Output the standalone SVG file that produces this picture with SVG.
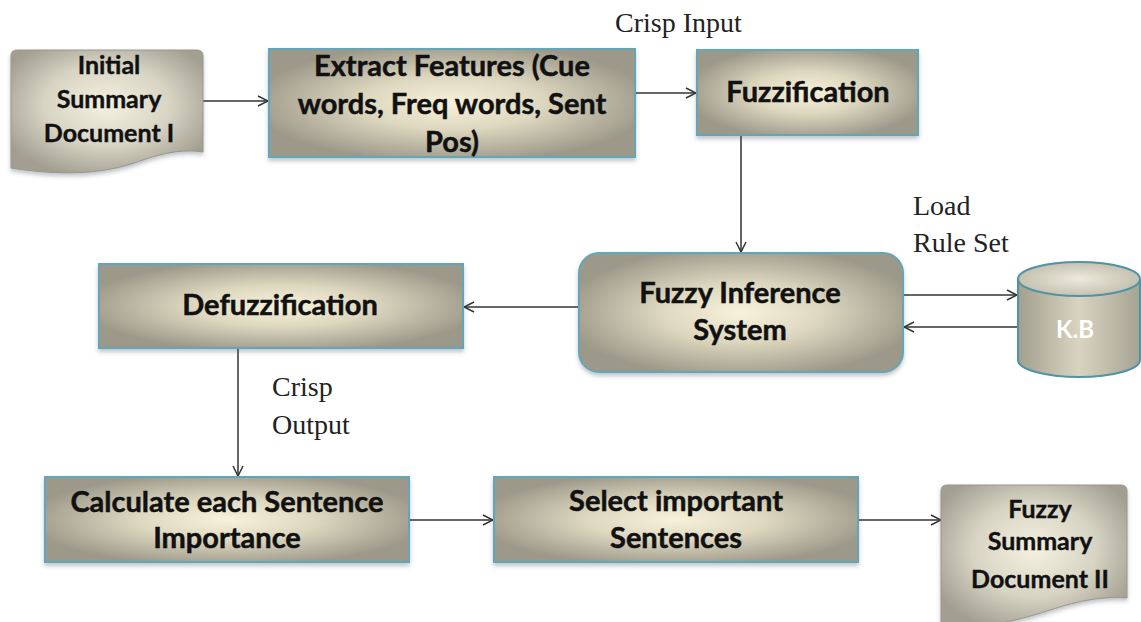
<svg xmlns="http://www.w3.org/2000/svg" width="1141" height="622" viewBox="0 0 1141 622">
  <defs>
    <radialGradient id="boxFill" cx="0.5" cy="0.5" r="0.55">
      <stop offset="0" stop-color="#f8f2da"/>
      <stop offset="0.45" stop-color="#ddd7bf"/>
      <stop offset="1" stop-color="#9d998a"/>
    </radialGradient>
    <radialGradient id="docFill" cx="0.5" cy="0.45" r="0.6">
      <stop offset="0" stop-color="#f5f1e0"/>
      <stop offset="0.55" stop-color="#d8d4c4"/>
      <stop offset="1" stop-color="#a29e90"/>
    </radialGradient>
    <linearGradient id="cylBody" x1="0" y1="0" x2="1" y2="0">
      <stop offset="0" stop-color="#a39f8f"/>
      <stop offset="0.5" stop-color="#d9d4c0"/>
      <stop offset="1" stop-color="#a7a393"/>
    </linearGradient>
    <radialGradient id="cylTop" cx="0.5" cy="0.5" r="0.6">
      <stop offset="0" stop-color="#eeeadb"/>
      <stop offset="1" stop-color="#bdb9a9"/>
    </radialGradient>
    <filter id="shadow" x="-10%" y="-10%" width="120%" height="130%">
      <feDropShadow dx="0" dy="3" stdDeviation="2" flood-color="#4a5a66" flood-opacity="0.35"/>
    </filter>
    <marker id="arrow" viewBox="0 0 12 12" refX="11" refY="6" markerWidth="12" markerHeight="12" markerUnits="userSpaceOnUse" orient="auto">
      <path d="M1,1 L11,6 L1,11" fill="none" stroke="#333" stroke-width="1.5"/>
    </marker>
  </defs>
  <style>
    .box { fill: url(#boxFill); stroke: #63a6b8; stroke-width: 2; filter: url(#shadow); }
    .doc { fill: url(#docFill); stroke: #9a968a; stroke-width: 1; filter: url(#shadow); }
    .label { font-family: Lato, "Liberation Sans", sans-serif; font-weight: 700; font-size: 29px; fill: #111; stroke: #111; stroke-width: 0.5; text-anchor: middle; }
    .doclabel { font-family: Lato, "Liberation Sans", sans-serif; font-weight: 700; font-size: 25px; fill: #111; stroke: #111; stroke-width: 0.4; text-anchor: middle; }
    .note { font-family: "Liberation Serif", "Times New Roman", serif; font-size: 28px; fill: #222; }
    .link { fill: none; stroke: #333; stroke-width: 1.5; marker-end: url(#arrow); }
  </style>

  <rect width="1141" height="622" fill="#ffffff"/>

  <!-- connectors -->
  <g id="connectors">
    <line class="link" x1="203" y1="101" x2="268" y2="101"/>
    <line class="link" x1="635" y1="93" x2="696" y2="93"/>
    <line class="link" x1="741" y1="135" x2="741" y2="252"/>
    <line class="link" x1="579" y1="307" x2="464" y2="307"/>
    <line class="link" x1="890" y1="295" x2="1017" y2="295"/>
    <line class="link" x1="1018" y1="327" x2="904" y2="327"/>
    <line class="link" x1="238" y1="348" x2="238" y2="476"/>
    <line class="link" x1="409" y1="520" x2="493" y2="520"/>
    <line class="link" x1="858" y1="520" x2="941" y2="520"/>
  </g>

  <!-- edge labels -->
  <g id="edge-labels">
    <text class="note" x="615" y="32" font-size="31">Crisp Input</text>
    <text class="note" x="913" y="215">Load</text>
    <text class="note" x="913" y="252">Rule Set</text>
    <text class="note" x="272" y="396">Crisp</text>
    <text class="note" x="272" y="434">Output</text>
  </g>

  <g id="initial-summary">
    <path class="doc" d="M11,56 Q11,50 17,50 H197 Q203,50 203,56 V152 C185,149 165,152 140,161 C112,171 75,178 11,168 Z"/>
    <text class="doclabel" x="109" y="74">Initial</text>
    <text class="doclabel" x="109" y="108">Summary</text>
    <text class="doclabel" x="109" y="142">Document I</text>
  </g>

  <g id="extract-features">
    <rect class="box" x="269" y="49" width="366" height="108"/>
    <text class="label" x="452" y="76">Extract Features (Cue</text>
    <text class="label" x="452" y="114">words, Freq words, Sent</text>
    <text class="label" x="452" y="152">Pos)</text>
  </g>

  <g id="fuzzification">
    <rect class="box" x="697" y="50" width="221" height="85"/>
    <text class="label" x="808" y="102">Fuzzification</text>
  </g>

  <g id="fuzzy-inference">
    <rect class="box" x="579" y="253" width="324" height="119" rx="20" ry="20"/>
    <text class="label" x="740" y="303">Fuzzy Inference</text>
    <text class="label" x="740" y="340">System</text>
  </g>

  <g id="knowledge-base">
    <path d="M1018,279 V360 A61,17 0 0 0 1140,360 V279" fill="url(#cylBody)" stroke="#4f93a5" stroke-width="2"/>
    <ellipse cx="1079" cy="279" rx="61" ry="17" fill="url(#cylTop)" stroke="#4f93a5" stroke-width="2"/>
    <text x="1075" y="338" font-family="Lato, 'Liberation Sans', sans-serif" font-weight="700" font-size="24" fill="#ffffff" text-anchor="middle">K.B</text>
  </g>

  <g id="defuzzification">
    <rect class="box" x="99" y="264" width="364" height="84"/>
    <text class="label" x="280" y="315">Defuzzification</text>
  </g>

  <g id="sentence-importance">
    <rect class="box" x="45" y="477" width="364" height="85"/>
    <text class="label" x="227" y="512">Calculate each Sentence</text>
    <text class="label" x="227" y="548">Importance</text>
  </g>

  <g id="select-sentences">
    <rect class="box" x="494" y="477" width="364" height="85"/>
    <text class="label" x="676" y="511">Select important</text>
    <text class="label" x="676" y="548">Sentences</text>
  </g>

  <g id="fuzzy-summary">
    <path class="doc" d="M941,491 Q941,485 947,485 H1121 Q1127,485 1127,491 V598 C1105,596 1080,600 1050,610 C1010,623 975,630 941,628 Z"/>
    <text class="doclabel" x="1040" y="518">Fuzzy</text>
    <text class="doclabel" x="1040" y="550">Summary</text>
    <text class="doclabel" x="1040" y="588">Document II</text>
  </g>
</svg>
